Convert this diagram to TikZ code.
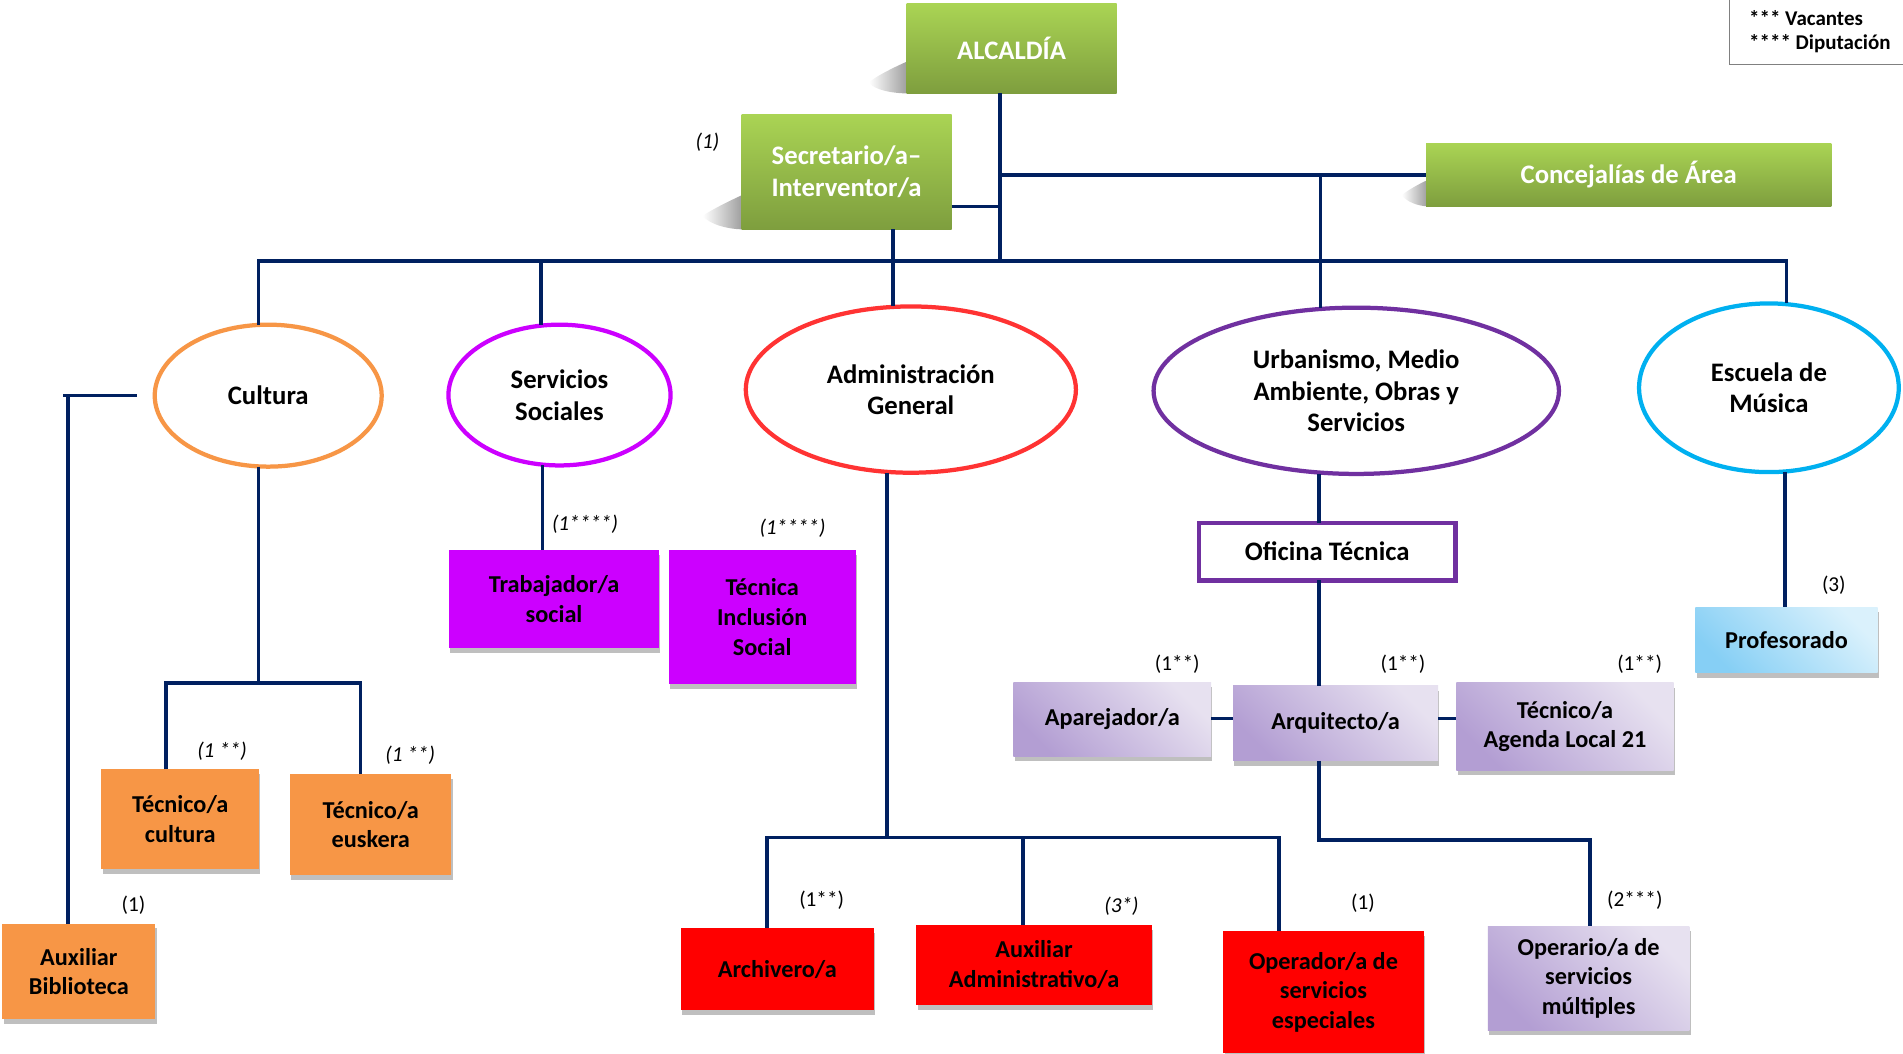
\documentclass[tikz,border=0pt]{standalone}
\usepackage{fontspec}
\setmainfont{Carlito}
\usetikzlibrary{shapes.geometric,shadows}
\definecolor{navy}{HTML}{002060}
\definecolor{grnT}{HTML}{AAD454}
\definecolor{grnB}{HTML}{7E9E3E}
\definecolor{orng}{HTML}{F79646}
\definecolor{magn}{HTML}{CC00FF}
\definecolor{redA}{HTML}{FF3333}
\definecolor{redB}{HTML}{FF0000}
\definecolor{purp}{HTML}{7030A0}
\definecolor{cyanE}{HTML}{00B0F0}
\definecolor{lavD}{HTML}{B39ED3}
\definecolor{lavL}{HTML}{E7E1F0}
\definecolor{bluD}{HTML}{86CFF5}
\definecolor{bluL}{HTML}{DAF1FC}
\tikzset{
  conn/.style={draw=navy, line width=3pt},
  txt/.style={font=\bfseries\fontsize{20}{24.5}\selectfont, align=center, inner sep=0pt, outer sep=0pt},
  bigtxt/.style={txt, font=\bfseries\fontsize{22}{26}\selectfont},
  wh/.style 2 args={minimum width=#1pt, minimum height=#2pt},
  shd/.style={drop shadow={shadow xshift=1pt, shadow yshift=-4pt, opacity=0.25, fill=black}},
  greenbox/.style={bigtxt, text=white, top color=grnT, bottom color=grnB},
  orbox/.style={txt, fill=orng, shd},
  mgbox/.style={txt, fill=magn, shd},
  rdbox/.style={txt, fill=redB, shd},
  lvbox/.style={txt, shd, top color=lavL, bottom color=lavD, shading angle=-45},
  blbox/.style={txt, shd, top color=bluL, bottom color=bluD, shading angle=-45},
  ovl/.style={bigtxt, ellipse, draw=#1, line width=3.5pt, fill=white},
  note/.style={font=\fontsize{17.5}{20}\selectfont, inner sep=0pt},
  inote/.style={inner sep=0pt, font=\fontsize{17.5}{20}\selectfont\itshape},
  lgd/.style={inner sep=0pt, font=\bfseries\fontsize{17.3}{20}\selectfont, anchor=west},
  gshade/.style={left color=white, right color=black!40},
}
\begin{document}
\begin{tikzpicture}[x=1pt, y=-1pt]
\useasboundingbox (0,0) rectangle (1568,868);
\fill[white] (0,0) rectangle (1568,868);

% left shadows of the green boxes
\shade[gshade] (749,50) .. controls (735,56) and (720,64) .. (716,68) .. controls (720,74) and (735,77) .. (749,77) -- cycle;
\shade[gshade] (613,160) .. controls (600,166) and (584,174) .. (579,178) .. controls (585,185) and (600,189) .. (613,189) -- cycle;
\shade[gshade] (1177,148) .. controls (1168,152) and (1158,158) .. (1155,161) .. controls (1159,166) and (1168,170) .. (1177,170) -- cycle;

% top level
\node[greenbox, wh={173}{74}] (alc) at (833.5,40) {ALCALDÍA};
\node[greenbox, wh={173}{95}] (sec) at (697.5,141.5) {Secretario/a–\\Interventor/a};
\node[greenbox, wh={334}{52}] (conc) at (1342,144) {Concejalías de Área};

% legend
\coordinate (lg1) at (1425,0);
\coordinate (lg2) at (1425,53);
\coordinate (lg3) at (1568,53);
\draw[gray, line width=1.2pt] (lg1) -- (lg2) -- (lg3);
\node[lgd] (lgA) at (1441,15) {*** Vacantes};
\node[lgd] (lgB) at (1441,36) {**** Diputación};

% areas
\node[ovl=orng, wh={187}{117}] (cul) at (221,326) {Cultura};
\node[ovl=magn, wh={183}{116}] (ss) at (461,325.5) {Servicios\\Sociales};
\node[ovl=redA, wh={272}{137}] (adm) at (750.5,321) {Administración\\General};
\node[ovl=purp, wh={334}{137}] (urb) at (1117.5,322) {Urbanismo, Medio\\Ambiente, Obras y\\Servicios};
\node[ovl=cyanE, wh={214}{139}] (esc) at (1457.5,319.5) {Escuela de\\Música};

% posts
\node[orbox, wh={130}{82}] (tcu) at (148.5,675) {Técnico/a\\cultura};
\node[orbox, wh={133}{83}] (teu) at (305.5,679.5) {Técnico/a\\euskera};
\node[orbox, wh={126}{79}] (aux) at (65,800.5) {Auxiliar\\Biblioteca};
\node[mgbox, wh={173}{81}] (trab) at (456.5,493.5) {Trabajador/a\\social};
\node[mgbox, wh={154}{110}] (tis) at (628,508.5) {Técnica\\Inclusión\\Social};
\node[rdbox, wh={159}{67}] (arc) at (640.5,798.5) {Archivero/a};
\node[rdbox, wh={194}{66}] (aad) at (852,795) {Auxiliar\\Administrativo/a};
\node[rdbox, wh={165}{101}] (ope) at (1090.5,817.5) {Operador/a de\\servicios\\especiales};
\node[bigtxt, draw=purp, line width=3.5pt, fill=white, wh={211.5}{47.5}] (ofi) at (1093.5,454.5) {Oficina Técnica};
\node[lvbox, wh={163}{61}] (apa) at (916.5,592.5) {Aparejador/a};
\node[lvbox, wh={169}{62}] (arq) at (1100.5,596) {Arquitecto/a};
\node[lvbox, wh={179}{72}, font=\bfseries\fontsize{20}{23.5}\selectfont] (agl) at (1289.5,598.5) {Técnico/a\\Agenda Local 21};
\node[lvbox, wh={166}{86}] (opm) at (1309,806) {Operario/a de\\servicios\\múltiples};
\node[blbox, wh={150}{54}] (prof) at (1472,527.5) {Profesorado};

% labels
\node[inote] (n1) at (583,117) {(1)};
\node[inote] (n2) at (183,619) {(1 **)};
\node[inote] (n3) at (338,622) {(1 **)};
\node[note] (n4) at (110,746) {(1)};
\node[inote] (n5) at (482,432) {(1****)};
\node[inote] (n6) at (653,435) {(1****)};
\node[note] (n7) at (677,742) {(1**)};
\node[inote] (n8) at (924,747) {(3*)};
\node[note] (n9) at (1123,744) {(1)};
\node[note] (n10) at (970,547) {(1**)};
\node[note] (n11) at (1156,547) {(1**)};
\node[note] (n12) at (1351,547) {(1**)};
\node[note] (n13) at (1347,742) {(2***)};
\node[note] (n14) at (1511,482) {(3)};

% connectors: top
\coordinate (trunk) at (824,215);
\coordinate (secj) at (824,170);
\coordinate (b1) at (213,215);
\coordinate (b2) at (446,215);
\coordinate (b3) at (736,215);
\coordinate (b5) at (1088,215);
\coordinate (b6) at (1472,215);
\draw[conn] (alc.south -| trunk) -- (trunk);
\draw[conn] (conc.west) -- (conc.west -| trunk);
\draw[conn] (sec.east |- secj) -- (secj);
\draw[conn] (b1 |- cul.north) -- (b1) -- (b6) -- (b6 |- esc.north);
\draw[conn] (b2) -- (b2 |- ss.north);
\draw[conn] (b3 |- sec.south) -- (b3 |- adm.north);
\draw[conn] (b5 |- conc.west) -- (b5 |- urb.north);

% Cultura
\coordinate (ctl) at (52,326);
\coordinate (ctr) at (113,326);
\coordinate (ctv) at (56,326);
\draw[conn] (ctl) -- (ctr);
\draw[conn] (ctv) -- (ctv |- aux.north);
\coordinate (cb) at (213,563);
\coordinate (cbl) at (137,563);
\coordinate (cbr) at (297,563);
\draw[conn] (cb |- cul.south) -- (cb);
\draw[conn] (cbl |- tcu.north) -- (cbl) -- (cbr) -- (cbr |- teu.north);

% Servicios Sociales
\coordinate (sx) at (447,0);
\draw[conn] (sx |- ss.south) -- (sx |- trab.north);

% Administracion
\coordinate (ab0) at (731,690);
\coordinate (ab1) at (632,690);
\coordinate (ab2) at (843,690);
\coordinate (ab3) at (1054,690);
\draw[conn] (ab0 |- adm.south) -- (ab0);
\draw[conn] (ab1 |- arc.north) -- (ab1) -- (ab3) -- (ab3 |- ope.north);
\draw[conn] (ab2) -- (ab2 |- aad.north);

% Urbanismo
\coordinate (ux) at (1087,0);
\draw[conn] (ux |- urb.south) -- (ux |- ofi.north);
\draw[conn] (ux |- ofi.south) -- (ux |- arq.north);
\coordinate (hy) at (0,592);
\draw[conn] (apa.east |- hy) -- (arq.west |- hy);
\draw[conn] (arq.east |- hy) -- (agl.west |- hy);
\coordinate (ub1) at (1087,692);
\coordinate (ub2) at (1310,692);
\draw[conn] (ub1 |- arq.south) -- (ub1) -- (ub2) -- (ub2 |- opm.north);

% Escuela
\coordinate (ex) at (1471,0);
\draw[conn] (ex |- esc.south) -- (ex |- prof.north);
\end{tikzpicture}
\end{document}
